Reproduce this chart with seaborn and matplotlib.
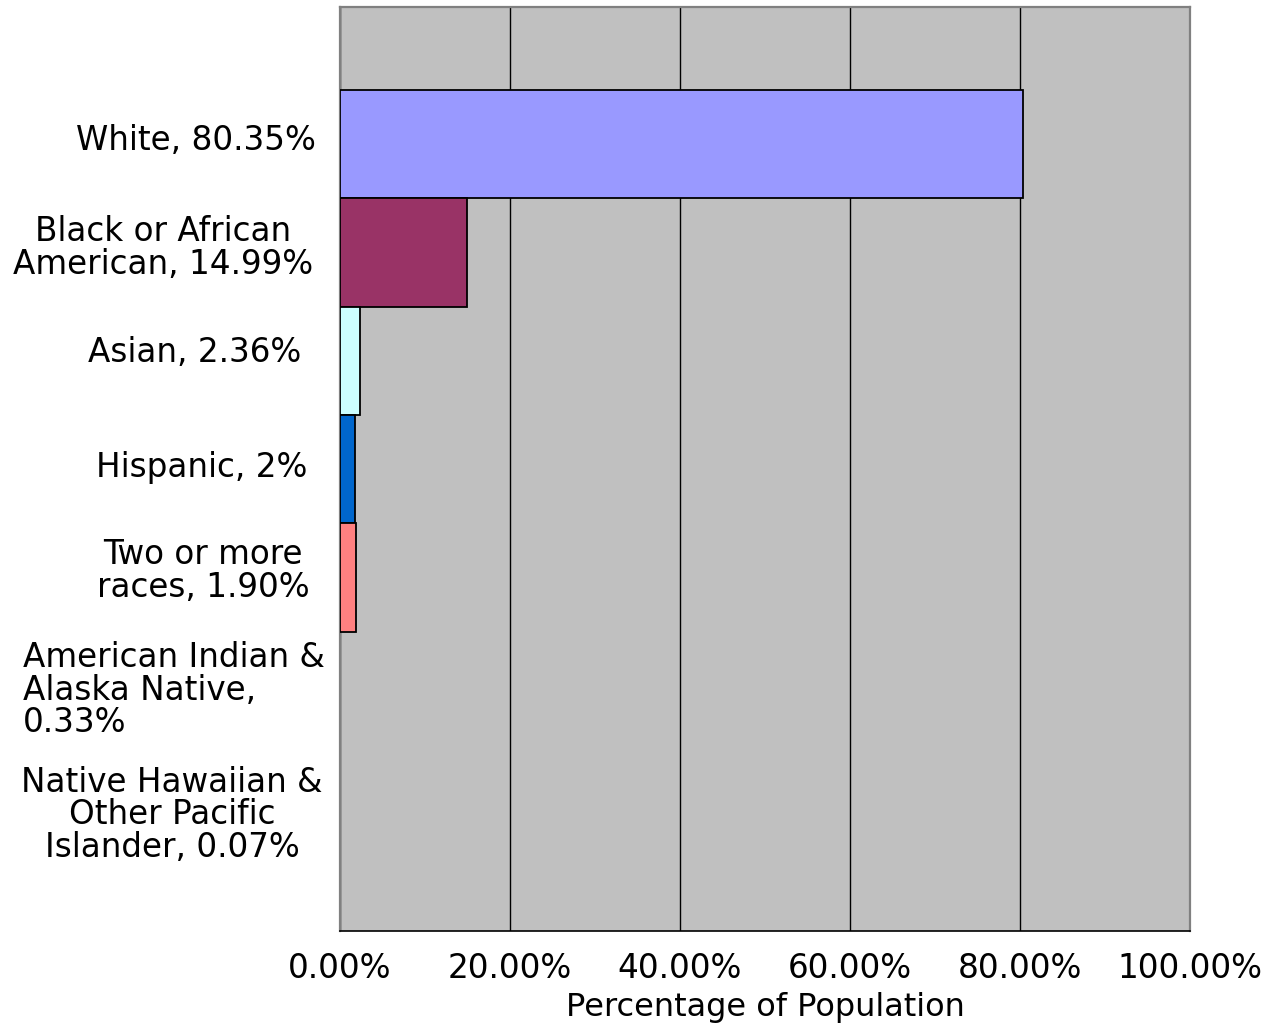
import numpy as np
import pandas as pd
import matplotlib
matplotlib.use("Agg")
import matplotlib.pyplot as plt
import seaborn as sns

# data
labels = [
    "White, 80.35%",
    "Black or African\nAmerican, 14.99%",
    "Asian, 2.36%",
    "Hispanic, 2%",
    "Two or more\nraces, 1.90%",
    "American Indian &\nAlaska Native,\n0.33%",
    "Native Hawaiian &\nOther Pacific\nIslander, 0.07%",
]
groups = ["White", "Black", "Asian", "Hispanic", "Two or more"]
values = [80.35, 14.99, 2.36, 1.8, 1.9]
colors = ["#9999FF", "#993366", "#CCFFFF", "#0066CC", "#FF8080"]
xticks = [0, 20, 40, 60, 80, 100]

df = pd.DataFrame({"group": groups, "pct": values})

sns.set_style("white")
plt.rcParams["font.family"] = ["DejaVu Sans"]
plt.rcParams["text.color"] = "black"
plt.rcParams["xtick.color"] = "black"
plt.rcParams["axes.labelcolor"] = "black"

fig = plt.figure(figsize=(12.68, 10.24), dpi=100)
ax = fig.add_axes([340 / 1268, 1 - 931 / 1024, 850 / 1268, 924 / 1024])
ax.set_facecolor("#C0C0C0")

sns.barplot(data=df, x="pct", y="group", hue="group", palette=colors,
            saturation=1, orient="h", width=1.0, edgecolor="black",
            linewidth=1.3, legend=False, ax=ax, zorder=3)

ax.set_xlim(0, 100)
ax.set_ylim(7.26, -1.264)
ax.set_xticks(xticks)
ax.set_xticklabels([f"{v:.2f}%" for v in xticks], fontsize=23.5)
ax.set_yticks([])
ax.set_ylabel("")
ax.set_xlabel("Percentage of Population", fontsize=23, labelpad=5)
ax.tick_params(axis="x", direction="out", length=6, width=1, color="black", pad=9)
ax.xaxis.grid(True, color="black", linewidth=1)
ax.set_axisbelow(True)

for side in ["left", "top", "right"]:
    ax.spines[side].set_color("#808080")
    ax.spines[side].set_linewidth(1.6)
ax.spines["bottom"].set_color("black")
ax.spines["bottom"].set_linewidth(1.2)

# category labels (placed like Excel data labels)
label_pos = [(196, 141, "center"), (163, 248, "center"), (195, 353, "center"),
             (202, 467, "center"), (203, 571, "center"), (23, 690, "left"),
             (172, 815, "center")]
for txt, (px, py, ha) in zip(labels, label_pos):
    fig.text(px / 1268, 1 - py / 1024, txt, ha=ha, va="center",
             multialignment=ha, fontsize=23.5, linespacing=0.98, color="black")

fig.savefig("out.png", dpi=100)
